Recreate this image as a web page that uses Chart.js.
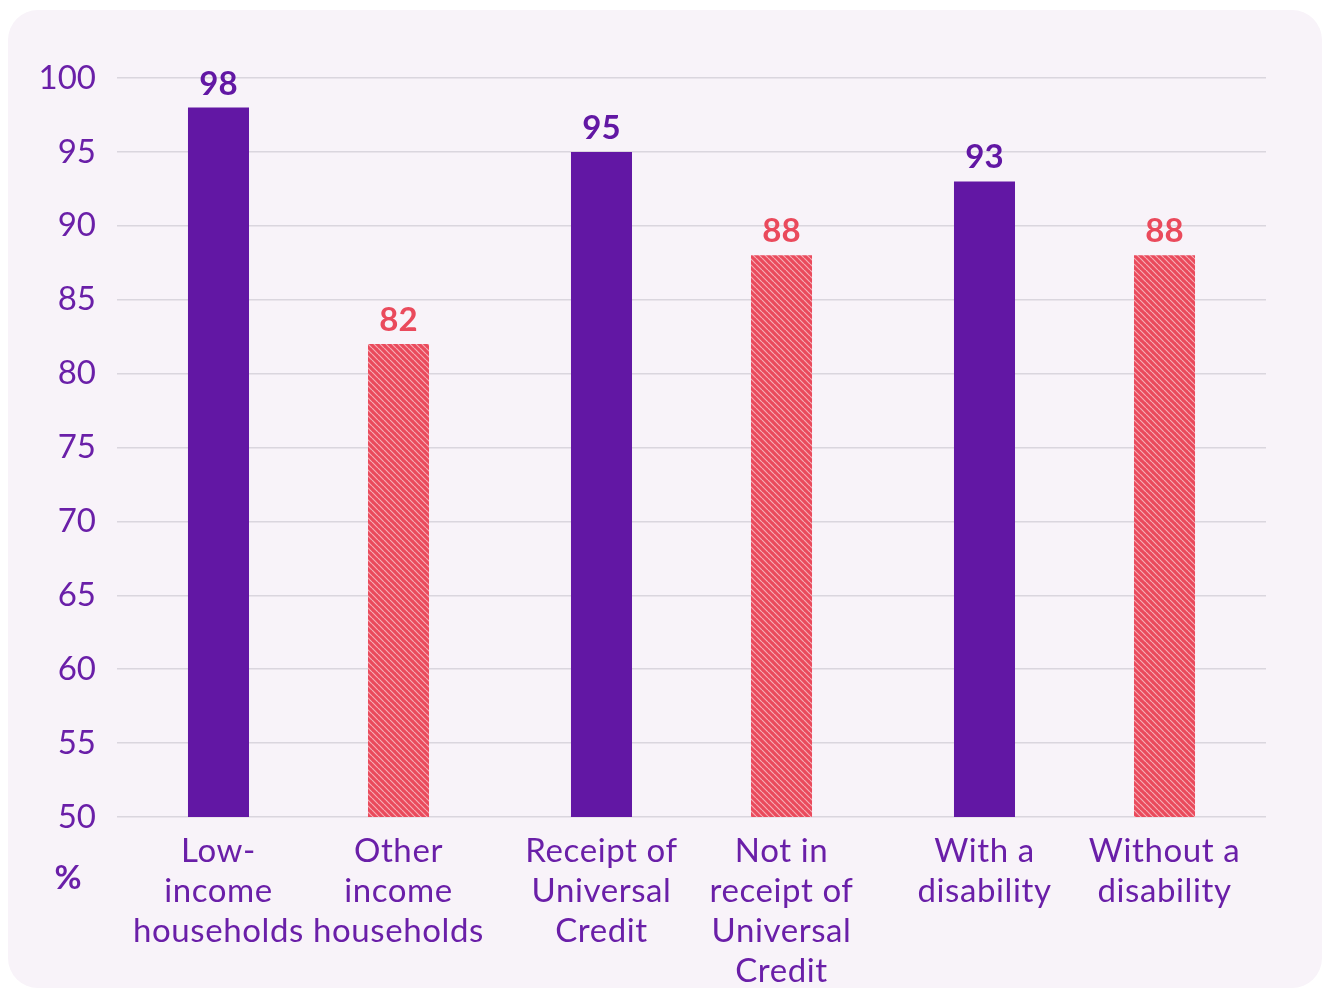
<!DOCTYPE html>
<html>
<head>
<meta charset="utf-8">
<script src="https://cdn.jsdelivr.net/npm/chart.js@4.4.1/dist/chart.umd.min.js"></script>
<style>
  html, body { margin: 0; padding: 0; background: #ffffff; }
  body { width: 1324px; height: 989px; position: relative; overflow: hidden; }
  .panel {
    position: absolute; left: 8px; top: 10px; width: 1314px; height: 978px;
    background: #f8f3f9; border-radius: 30px;
  }
  .wrap { position: absolute; left: 0; top: 0; width: 1324px; height: 989px; }
</style>
</head>
<body>
<div class="panel"></div>
<div class="wrap"><canvas id="chart" width="1324" height="989"></canvas></div>
<script>
// Three comparisons, each shown as a pair of bars (group, comparison group).
const groups = ['Income', 'Universal Credit', 'Disability'];

const primaryLabels = [['Low-', 'income', 'households'], ['Receipt of', 'Universal', 'Credit'], ['With a', 'disability']];
const primaryValues = [98, 95, 93];

const comparisonLabels = [['Other', 'income', 'households'], ['Not in', 'receipt of', 'Universal', 'Credit'], ['Without a', 'disability']];
const comparisonValues = [82, 88, 88];

const yMin = 50, yMax = 100, yStep = 5;
const axisTitle = '%';

const PURPLE = '#6217a4';
const TEXT_PURPLE = '#6a1fa8';
const RED = '#ea4a5c';
const FONT = 'Lato, "Open Sans", sans-serif';

// Diagonal hatch fill for the comparison bars
function hatch() {
  const s = 6;
  const c = document.createElement('canvas');
  c.width = s; c.height = s;
  const g = c.getContext('2d');
  g.fillStyle = RED;
  g.fillRect(0, 0, s, s);
  g.strokeStyle = 'rgba(255,255,255,0.55)';
  g.lineWidth = 1.2;
  g.beginPath();
  for (const o of [-s, 0, s]) {
    g.moveTo(o, 0);
    g.lineTo(o + s, s);
  }
  g.stroke();
  return g.createPattern(c, 'repeat');
}

const ctx = document.getElementById('chart').getContext('2d');

// Value labels above bars, category labels under bars and the unit label
const annotate = {
  id: 'annotate',
  afterDatasetsDraw(chart) {
    const c = chart.ctx;
    const area = chart.chartArea;
    c.save();
    c.textAlign = 'center';
    chart.data.datasets.forEach((ds, di) => {
      const meta = chart.getDatasetMeta(di);
      meta.data.forEach((bar, i) => {
        c.letterSpacing = '0px';
        c.font = 'bold 33px ' + FONT;
        c.fillStyle = ds.labelColor;
        c.textBaseline = 'alphabetic';
        c.fillText(String(ds.data[i]), bar.x, bar.y - 13);

        c.letterSpacing = '0.6px';
        c.font = '33px ' + FONT;
        c.fillStyle = TEXT_PURPLE;
        c.textBaseline = 'middle';
        ds.categoryLines[i].forEach((line, li) => {
          c.fillText(line, bar.x, area.bottom + 34 + li * 40);
        });
      });
    });
    c.letterSpacing = '0px';
    c.font = 'bold 33px ' + FONT;
    c.fillStyle = TEXT_PURPLE;
    c.textBaseline = 'middle';
    c.textAlign = 'center';
    c.fillText(axisTitle, 68, area.bottom + 61);
    c.restore();
  }
};

new Chart(ctx, {
  type: 'bar',
  data: {
    labels: groups,
    datasets: [
      {
        data: primaryValues,
        backgroundColor: PURPLE,
        labelColor: PURPLE,
        categoryLines: primaryLabels
      },
      {
        data: comparisonValues,
        backgroundColor: hatch(),
        labelColor: RED,
        categoryLines: comparisonLabels
      }
    ]
  },
  options: {
    responsive: false,
    animation: false,
    devicePixelRatio: 1,
    layout: { padding: { left: 0, right: 58, top: 78, bottom: 164 } },
    datasets: { bar: { categoryPercentage: 0.94, barPercentage: 0.339 } },
    plugins: { legend: { display: false }, tooltip: { enabled: false } },
    scales: {
      x: {
        ticks: { display: false },
        grid: { display: false },
        border: { display: false }
      },
      y: {
        min: yMin,
        max: yMax,
        afterFit(scale) { scale.width = 117; },
        ticks: {
          stepSize: yStep,
          padding: 21,
          color: TEXT_PURPLE,
          font: { family: FONT, size: 33 }
        },
        grid: { color: '#dad6de', lineWidth: 1.5, drawTicks: false },
        border: { display: false }
      }
    }
  },
  plugins: [annotate]
});
</script>
</body>
</html>
